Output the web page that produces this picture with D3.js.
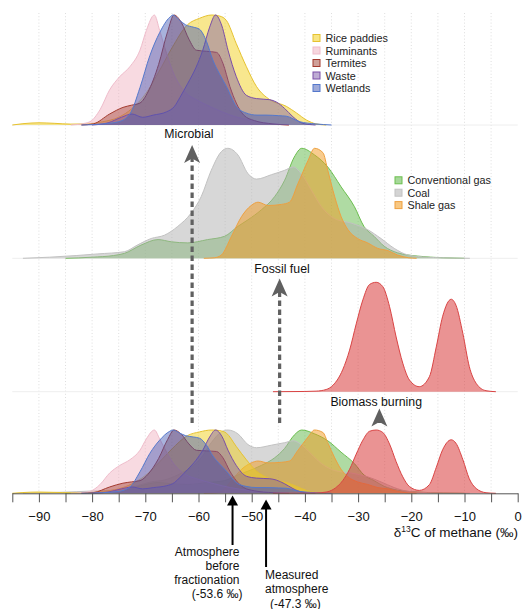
<!DOCTYPE html>
<html>
<head>
<meta charset="utf-8">
<script src="https://cdn.jsdelivr.net/npm/d3@7"></script>
<style>
  body { margin: 0; background: #fff; }
  svg { display: block; font-family: "Liberation Sans", Arial, Helvetica, sans-serif; }
</style>
</head>
<body>
<svg id="chart" width="524" height="609"></svg>
<script>
// Normalised density curves of methane δ13C (‰) by source, each peaking at 1.
// Each entry: [δ13C, relative density].

// Microbial sources
const ricePaddies = [[-95,0],[-93,0.012],[-90,0.02],[-87,0.015],[-84,0.008],[-81,0.01],[-78,0.03],[-75,0.07],[-72.5,0.15],[-70,0.28],[-67.5,0.48],[-65,0.7],[-62.1,0.91],[-59.8,0.97],[-57.5,1.0],[-56,0.99],[-54.75,0.95],[-52.9,0.74],[-51,0.53],[-49.1,0.35],[-46.6,0.23],[-43.5,0.17],[-41.6,0.11],[-39.7,0.045],[-37.9,0.01],[-36,0]];
const ruminants = [[-84,0],[-82,0.01],[-80.4,0.03],[-78.5,0.14],[-76.7,0.32],[-74.8,0.44],[-72.9,0.53],[-71,0.68],[-69.8,0.86],[-68.3,1.0],[-67.3,0.86],[-66,0.65],[-64.5,0.45],[-62.5,0.3],[-60,0.22],[-57,0.15],[-54,0.09],[-50,0.04],[-46,0.01],[-43,0]];
const termites = [[-82,0],[-79.8,0.01],[-76.7,0.1],[-74.2,0.16],[-72.6,0.18],[-71,0.2],[-69.5,0.3],[-67.5,0.55],[-65.8,0.85],[-64.6,1.0],[-63.2,0.93],[-61.8,0.78],[-60.4,0.68],[-58.5,0.67],[-56.6,0.66],[-55.4,0.56],[-54.1,0.35],[-52.9,0.2],[-51.5,0.09],[-49.5,0.04],[-46,0.01],[-43,0]];
const waste = [[-80,0],[-77,0.02],[-74.5,0.07],[-72.5,0.1],[-70.5,0.07],[-68.5,0.09],[-66,0.12],[-64.5,0.17],[-63.5,0.25],[-62,0.38],[-60.5,0.52],[-59.2,0.68],[-57.9,0.89],[-56.8,1.0],[-55.6,0.9],[-54.45,0.68],[-52.9,0.44],[-51,0.27],[-49.1,0.24],[-46.6,0.23],[-45.4,0.21],[-43.8,0.15],[-42.25,0.075],[-40.4,0.015],[-38,0]];
const wetlands = [[-82,0],[-78,0.01],[-75,0.03],[-72.9,0.1],[-71,0.34],[-69.15,0.63],[-67.3,0.84],[-65.4,0.98],[-64.8,1.0],[-63.5,0.95],[-62.4,0.91],[-61,0.89],[-59.8,0.87],[-58.5,0.76],[-57.3,0.59],[-56,0.46],[-54.75,0.35],[-52.9,0.17],[-51.1,0.11],[-49,0.09],[-47.3,0.09],[-45,0.085],[-43.5,0.08],[-41,0.03],[-38,0.01],[-35,0]];

// Fossil fuel sources
const conventionalGas = [[-85,0],[-80,0.01],[-76,0.025],[-73.9,0.045],[-70.8,0.12],[-67.6,0.17],[-65.1,0.15],[-62,0.14],[-58.3,0.17],[-55.1,0.2],[-52.6,0.29],[-50.7,0.35],[-48.2,0.44],[-45.7,0.56],[-43.8,0.71],[-42,0.92],[-40.6,1.0],[-38.2,0.94],[-35.7,0.83],[-33.2,0.65],[-30.7,0.47],[-28.9,0.29],[-27,0.2],[-25.1,0.11],[-22.6,0.05],[-18.8,0.02],[-14,0.005],[-10,0]];
const coal = [[-93,0],[-88,0.01],[-83,0.025],[-78.9,0.04],[-73.9,0.06],[-71.5,0.12],[-68.9,0.18],[-66.4,0.21],[-63.9,0.29],[-61.4,0.41],[-59.5,0.56],[-57.6,0.8],[-55.7,0.97],[-54.5,1.0],[-52.6,0.94],[-50.7,0.77],[-49.1,0.72],[-46.3,0.76],[-43.8,0.8],[-42.2,0.83],[-40.7,0.77],[-38.8,0.62],[-36.9,0.47],[-34.4,0.36],[-31.3,0.32],[-28.2,0.26],[-25.7,0.18],[-23.2,0.09],[-20.6,0.03],[-17,0.01],[-14.4,0.005],[-9,0]];
const shaleGas = [[-59,0],[-57,0.005],[-55.7,0.03],[-53.8,0.2],[-51.9,0.38],[-50.1,0.48],[-48.8,0.51],[-46.9,0.48],[-44.4,0.49],[-42.9,0.51],[-41.3,0.68],[-39.4,0.89],[-38.2,1.0],[-36.6,0.96],[-35.7,0.8],[-34.4,0.56],[-33.2,0.38],[-31.9,0.26],[-30.1,0.18],[-28.2,0.14],[-26.3,0.09],[-24.4,0.07],[-22.6,0.03],[-20.5,0.005],[-19,0]];

// Biomass burning
const biomassBurning = [[-46,0],[-40,0.002],[-37.9,0.005],[-36,0.02],[-34.7,0.06],[-32.9,0.2],[-31.6,0.38],[-30.35,0.62],[-29.1,0.84],[-27.85,0.98],[-26.6,1.0],[-25.35,0.96],[-24.1,0.78],[-22.85,0.5],[-21.6,0.26],[-20.35,0.107],[-18.5,0.046],[-16.6,0.137],[-15.3,0.41],[-14.1,0.69],[-12.5,0.845],[-11.6,0.79],[-10.3,0.53],[-9.1,0.23],[-7.8,0.076],[-5.95,0.009],[-4.1,0]];

const microbialNames = ["Rice paddies", "Ruminants", "Termites", "Waste", "Wetlands"];
const fossilNames = ["Conventional gas", "Coal", "Shale gas"];
const groupLabels = ["Microbial", "Fossil fuel", "Biomass burning"];
const groupLabelDelta = [-61.8, -44.3, -26.6];
const groupArrowDelta = [-61.2, -44.75, -26.0];
const atmosphereDelta = [-53.6, -47.3];
const xTicks = d3.range(-95, 1, 5);
const gridTicks = d3.range(-90, 0, 5);

const styles = {
  "Rice paddies":     { fill: "#f2cf1d", stroke: "#e6c230", alpha: 0.5 },
  "Ruminants":        { fill: "#f0b0bf", stroke: "#efbccb", alpha: 0.47 },
  "Termites":         { fill: "#9c3526", stroke: "#a33a2e", alpha: 0.42 },
  "Waste":            { fill: "#7d5aa8", stroke: "#7a4ea8", alpha: 0.45 },
  "Wetlands":         { fill: "#4258b2", stroke: "#5478cc", alpha: 0.46 },
  "Conventional gas": { fill: "#5fb847", stroke: "#6cbf4f", alpha: 0.5 },
  "Coal":             { fill: "#b0b0b0", stroke: "#c2c2c2", alpha: 0.5 },
  "Shale gas":        { fill: "#f29a1e", stroke: "#eea040", alpha: 0.5 },
  "Biomass burning":  { fill: "#d83a3a", stroke: "#d94444", alpha: 0.55 }
};

const microbial = [ricePaddies, ruminants, termites, waste, wetlands].map((d, i) => ({ name: microbialNames[i], values: d }));
const fossil = [conventionalGas, coal, shaleGas].map((d, i) => ({ name: fossilNames[i], values: d }));
const biomass = [{ name: "Biomass burning", values: biomassBurning }];

const svg = d3.select("#chart");
const x = d3.scaleLinear().domain([-95, 0]).range([12.3, 517.7]);

// one y scale per stacked panel (baseline, peak height)
const yMicro  = d3.scaleLinear().domain([0, 1]).range([125, 15]);
const yFossil = d3.scaleLinear().domain([0, 1]).range([258.3, 148.3]);
const yBio    = d3.scaleLinear().domain([0, 1]).range([391.7, 282.3]);
const yAll    = d3.scaleLinear().domain([0, 1]).range([493.3, 430]);

// vertical dotted grid
svg.append("g").selectAll("line").data(gridTicks).join("line")
  .attr("x1", d => x(d)).attr("x2", d => x(d))
  .attr("y1", 13).attr("y2", 493)
  .attr("stroke", "#d6d6d6").attr("stroke-width", 0.8)
  .attr("stroke-dasharray", "1,2.2");

// faint panel baselines
[yMicro, yFossil, yBio].forEach(y => {
  svg.append("line")
    .attr("x1", x(-95)).attr("x2", x(0))
    .attr("y1", y(0)).attr("y2", y(0))
    .attr("stroke", "#eeeeee").attr("stroke-width", 1);
});

function drawGroup(series, y) {
  const g = svg.append("g");
  const area = d3.area().x(d => x(d[0])).y0(y(0)).y1(d => y(d[1])).curve(d3.curveMonotoneX);
  const line = d3.line().x(d => x(d[0])).y(d => y(d[1])).curve(d3.curveMonotoneX);
  series.forEach(s => {
    const st = styles[s.name];
    g.append("path").attr("d", area(s.values))
      .attr("fill", st.fill).attr("fill-opacity", st.alpha);
    g.append("path").attr("d", line(s.values))
      .attr("fill", "none").attr("stroke", st.stroke).attr("stroke-width", 1);
  });
}

drawGroup(microbial, yMicro);
drawGroup(fossil, yFossil);
drawGroup(biomass, yBio);

// combined panel
drawGroup(fossil, yAll);
drawGroup(microbial, yAll);
drawGroup(biomass, yAll);

// dashed arrows rising from the combined panel to each source group
const arrowColor = "#606060";
const arrowTips = [145, 278.5, 408.5];
groupArrowDelta.forEach((d, i) => {
  const cx = x(d), tip = arrowTips[i];
  const bottom = 423;
  if (bottom > tip + 14) {
    svg.append("line")
      .attr("x1", cx).attr("x2", cx)
      .attr("y1", bottom).attr("y2", tip + 12)
      .attr("stroke", arrowColor).attr("stroke-width", 3.2)
      .attr("stroke-dasharray", "5.5,3.5");
  }
  svg.append("path")
    .attr("d", `M${cx},${tip} L${cx + 8},${tip + 18} L${cx},${tip + 13.5} L${cx - 8},${tip + 18} Z`)
    .attr("fill", arrowColor);
});

// group labels
const labelY = [138, 273, 406];
groupLabels.forEach((t, i) => {
  svg.append("text")
    .attr("x", x(groupLabelDelta[i])).attr("y", labelY[i])
    .attr("text-anchor", "middle")
    .attr("font-size", 12.3).attr("fill", "#111")
    .text(t);
});

// legends
function legend(names, x0, y0, step) {
  const g = svg.append("g");
  names.forEach((n, i) => {
    const st = styles[n];
    const cy = y0 + i * step;
    g.append("rect").attr("x", x0).attr("y", cy - 3.5).attr("width", 7).attr("height", 7)
      .attr("fill", st.fill).attr("fill-opacity", Math.min(1, st.alpha + 0.05))
      .attr("stroke", st.stroke).attr("stroke-width", 1);
    g.append("text").attr("x", x0 + 12.5).attr("y", cy + 4)
      .attr("font-size", 10.8).attr("fill", "#222").text(n);
  });
}
legend(microbialNames, 313, 38, 12.5);
legend(fossilNames, 395, 180.3, 12.4);

// x axis
const axis = d3.axisBottom(x)
  .tickValues(xTicks)
  .tickSize(9).tickSizeOuter(0).tickPadding(9)
  .tickFormat(d => (d % 10 === 0 ? d3.format("")(d) : ""));
const ax = svg.append("g").attr("transform", "translate(0,493.3)").call(axis);
ax.select(".domain").attr("stroke", "#555");
ax.selectAll(".tick line").attr("stroke", "#555");
ax.selectAll(".tick text")
  .attr("font-size", 13).attr("fill", "#111")
  .attr("font-family", '"Liberation Sans", Arial, sans-serif');

// axis title
const title = svg.append("text").attr("x", 518).attr("y", 537)
  .attr("text-anchor", "end").attr("font-size", 13.5).attr("fill", "#111");
title.append("tspan").text("δ");
title.append("tspan").attr("font-size", 8.5).attr("dy", -5.5).text("13");
title.append("tspan").attr("dy", 5.5).text("C of methane (‰)");

// atmosphere markers
const atmTip = [495.5, 499.5];
const atmEnd = [545, 567];
atmosphereDelta.forEach((d, i) => {
  const cx = x(d), tip = atmTip[i];
  svg.append("line").attr("x1", cx).attr("x2", cx)
    .attr("y1", tip + 8).attr("y2", atmEnd[i])
    .attr("stroke", "#000").attr("stroke-width", 2);
  svg.append("path")
    .attr("d", `M${cx},${tip} L${cx + 5.5},${tip + 10} L${cx - 5.5},${tip + 10} Z`)
    .attr("fill", "#000");
});

const beforeLines = ["Atmosphere", "before", "fractionation", "(-" + Math.abs(atmosphereDelta[0]) + " ‰)"];
beforeLines.forEach((t, i) => {
  svg.append("text")
    .attr("x", i === 3 ? 242.5 : 239.5).attr("y", 555.5 + i * 14.3)
    .attr("text-anchor", "end").attr("font-size", 12).attr("fill", "#111").text(t);
});
const measuredLines = ["Measured", "atmosphere", "(-" + Math.abs(atmosphereDelta[1]) + " ‰)"];
measuredLines.forEach((t, i) => {
  svg.append("text")
    .attr("x", i === 2 ? 270 : 265).attr("y", 578.5 + i * 14.5)
    .attr("text-anchor", "start").attr("font-size", 12).attr("fill", "#111").text(t);
});
</script>
</body>
</html>
